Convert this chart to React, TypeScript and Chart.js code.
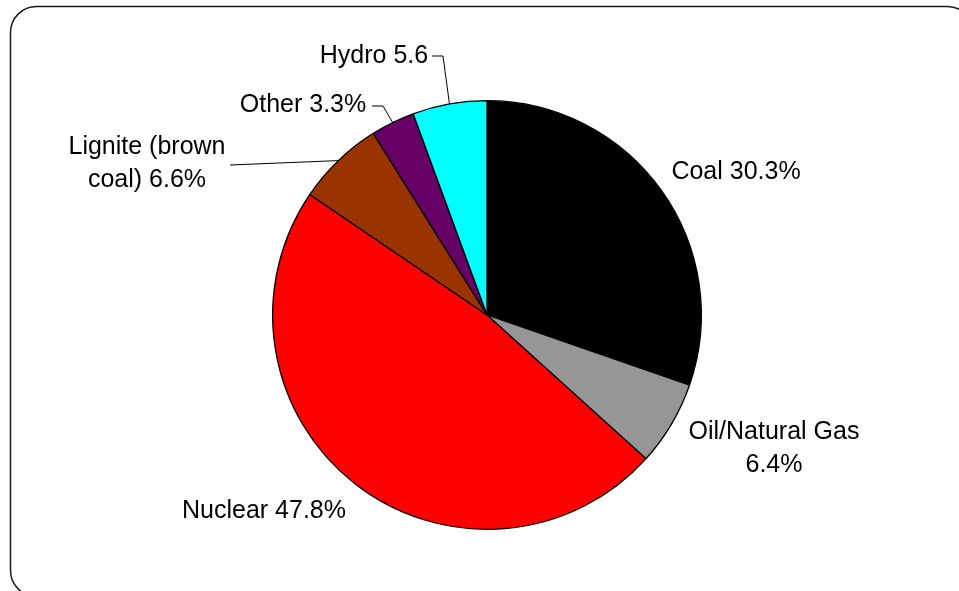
import React, { useEffect, useRef } from "react";
import { Chart, registerables } from "chart.js";

Chart.register(...registerables);

const categories = ["Coal", "Oil/Natural Gas", "Nuclear", "Lignite (brown coal)", "Other", "Hydro"];
const shares = [30.3, 6.4, 47.8, 6.6, 3.3, 5.6];
const labelLines: string[][] = [
  ["Coal 30.3%"],
  ["Oil/Natural Gas", "6.4%"],
  ["Nuclear 47.8%"],
  ["Lignite (brown", "coal) 6.6%"],
  ["Other 3.3%"],
  ["Hydro 5.6"],
];
const colors = ["#000000", "#969696", "#FF0000", "#993300", "#660066", "#00FFFF"];

// label layout (offsets from pie centre), style only
const labelLayout = [
  { dx: 249, dy: -143, leader: null },
  { dx: 287, dy: 117, leader: null },
  { dx: -223, dy: 196, leader: null },
  { dx: -340, dy: -168, leader: [[-257, -150]] },
  { dx: -184, dy: -210, leader: [[-115, -209], [-104, -209]] },
  { dx: -113, dy: -259, leader: [[-55, -259], [-44, -259]] },
];

const FONT = "25px 'Liberation Sans', Arial, sans-serif";
const LINE_H = 33;

const framePlugin = {
  id: "frame",
  beforeDraw(chart: any) {
    const ctx = chart.ctx;
    ctx.save();
    ctx.fillStyle = "#ffffff";
    ctx.fillRect(0, 0, chart.width, chart.height);
    const x = 10.5, y = 6.5, w = 963, h = 590, r = 26;
    ctx.beginPath();
    ctx.moveTo(x + r, y);
    ctx.lineTo(x + w - r, y);
    ctx.arcTo(x + w, y, x + w, y + r, r);
    ctx.lineTo(x + w, y + h - r);
    ctx.arcTo(x + w, y + h, x + w - r, y + h, r);
    ctx.lineTo(x + r, y + h);
    ctx.arcTo(x, y + h, x, y + h - r, r);
    ctx.lineTo(x, y + r);
    ctx.arcTo(x, y, x + r, y, r);
    ctx.closePath();
    ctx.lineWidth = 1.5;
    ctx.strokeStyle = "#1a1a1a";
    ctx.stroke();
    ctx.restore();
  },
};

const labelPlugin = {
  id: "pieLabels",
  afterDatasetsDraw(chart: any) {
    const ctx = chart.ctx;
    const meta = chart.getDatasetMeta(0);
    ctx.save();
    ctx.font = FONT;
    ctx.fillStyle = "#000000";
    ctx.textAlign = "center";
    ctx.textBaseline = "middle";
    meta.data.forEach((arc: any, i: number) => {
      const p = arc.getProps(["x", "y", "startAngle", "endAngle", "outerRadius"], true);
      const cx = p.x, cy = p.y;
      const lay = labelLayout[i];
      const lines = labelLines[i];
      lines.forEach((t, k) => {
        ctx.fillText(t, cx + lay.dx, cy + lay.dy + k * LINE_H);
      });
      if (lay.leader) {
        const mid = (p.startAngle + p.endAngle) / 2;
        const ax = cx + Math.cos(mid) * p.outerRadius;
        const ay = cy + Math.sin(mid) * p.outerRadius;
        ctx.beginPath();
        ctx.lineWidth = 1;
        ctx.strokeStyle = "#000000";
        lay.leader.forEach((pt: number[], k: number) => {
          if (k === 0) ctx.moveTo(cx + pt[0], cy + pt[1]);
          else ctx.lineTo(cx + pt[0], cy + pt[1]);
        });
        ctx.lineTo(ax, ay);
        ctx.stroke();
      }
    });
    ctx.restore();
  },
};

export default function App() {
  const ref = useRef<HTMLCanvasElement>(null);
  useEffect(() => {
    if (!ref.current) return;
    const chart = new Chart(ref.current, {
      type: "pie",
      data: {
        labels: categories,
        datasets: [
          {
            data: shares,
            backgroundColor: colors,
            borderColor: "#000000",
            borderWidth: 1.3,
          },
        ],
      },
      options: {
        animation: false,
        responsive: false,
        layout: { padding: { left: 272, right: 257, top: 100, bottom: 61 } },
        plugins: {
          legend: { display: false },
          tooltip: { enabled: false },
        },
      },
      plugins: [framePlugin, labelPlugin],
    });
    return () => chart.destroy();
  }, []);
  return (
    <div style={{ position: "fixed", left: 0, top: 0, width: 959, height: 591, background: "#fff" }}>
      <canvas ref={ref} width={959} height={591} style={{ display: "block" }} />
    </div>
  );
}
